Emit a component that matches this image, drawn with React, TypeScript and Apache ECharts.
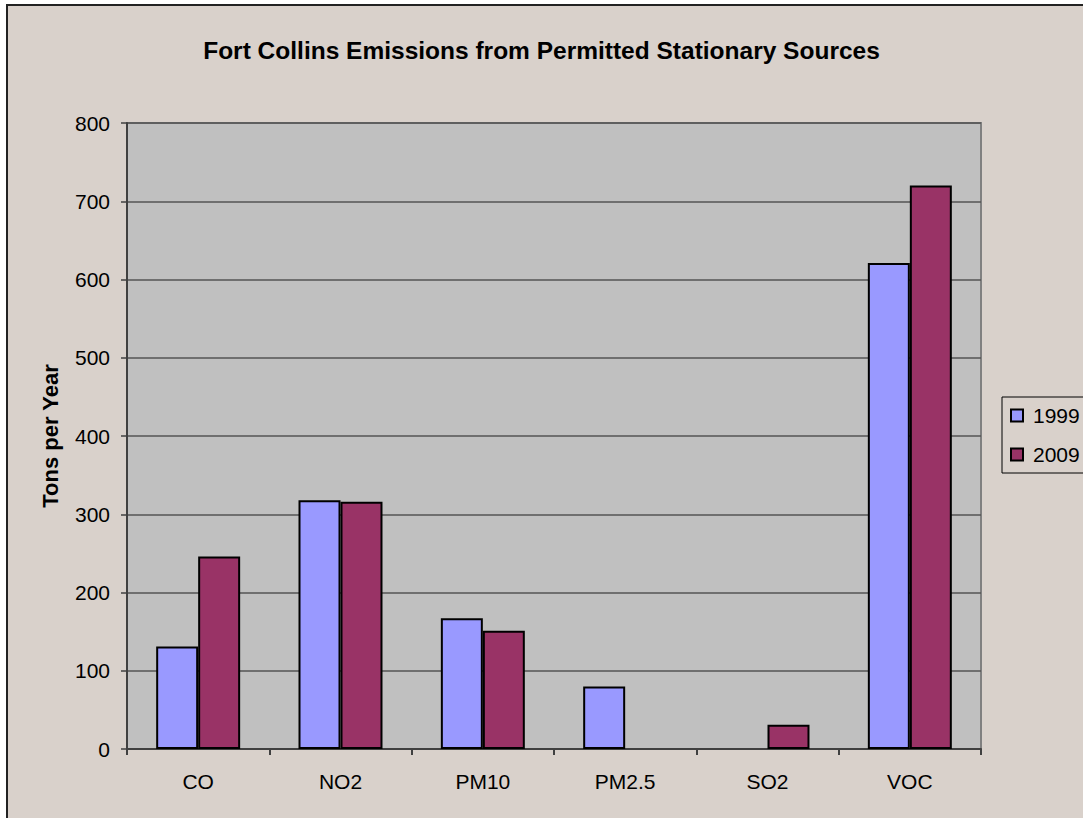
import React, { useEffect, useRef } from "react";
import * as echarts from "echarts";

const categories = ["CO", "NO2", "PM10", "PM2.5", "SO2", "VOC"];
const series1999 = [131, 318, 167, 80, 0, 621];
const series2009 = [246, 316, 151, 0, 31, 720];
const seriesNames = ["1999", "2009"];
const yTicks = { min: 0, max: 800, interval: 100 };

const FONT = "'Liberation Sans', Arial, sans-serif";

export default function App() {
  const ref = useRef<HTMLDivElement>(null);
  useEffect(() => {
    document.body.style.margin = "0";
    const chart = echarts.init(ref.current!, null, { renderer: "svg" });
    const barStyle = (color: string) => ({
      color,
      borderColor: "#000",
      borderWidth: 2,
    });
    const toData = (arr: number[]) =>
      arr.map((v) => (v === 0 ? { value: v, itemStyle: { borderWidth: 0, opacity: 0 } } : v));
    chart.setOption({
      animation: false,
      backgroundColor: "#ffffff",
      graphic: [
        {
          type: "rect",
          z: -10,
          silent: true,
          shape: { x: 7, y: 5, width: 1200, height: 1000 },
          style: { fill: "#D9D1CB", stroke: "#222", lineWidth: 2 },
        },
      ],
      title: {
        text: "Fort Collins Emissions from Permitted Stationary Sources",
        left: "center",
        top: 33,
        textStyle: { fontFamily: FONT, fontSize: 24.5, fontWeight: "bold", color: "#000" },
      },
      legend: {
        orient: "vertical",
        left: 1002,
        top: 397,
        data: seriesNames,
        itemWidth: 12,
        itemHeight: 12,
        itemGap: 18,
        padding: [8, 24, 8, 8],
        borderColor: "#000",
        borderWidth: 1,
        backgroundColor: "#D9D1CB",
        textStyle: { fontFamily: FONT, fontSize: 21, color: "#000", padding: [0, 0, 0, 5] },
        icon: "rect",
      },
      grid: {
        left: 127,
        top: 123,
        right: 102,
        bottom: 69,
        show: true,
        backgroundColor: "#C0C0C0",
        borderColor: "#808080",
        borderWidth: 2,
      },
      xAxis: {
        type: "category",
        data: categories,
        axisLine: { show: true, lineStyle: { color: "#404040", width: 2 } },
        axisTick: { show: true, length: 6, lineStyle: { color: "#404040", width: 2 } },
        axisLabel: { margin: 22, fontFamily: FONT, fontSize: 21, color: "#000" },
      },
      yAxis: {
        type: "value",
        min: yTicks.min,
        max: yTicks.max,
        interval: yTicks.interval,
        name: "Tons per Year",
        nameLocation: "middle",
        nameGap: 66,
        nameRotate: 90,
        nameTextStyle: { fontFamily: FONT, fontSize: 22, fontWeight: "bold", color: "#000" },
        axisLine: { show: true, lineStyle: { color: "#404040", width: 2 } },
        axisTick: { show: true, length: 6, lineStyle: { color: "#404040", width: 1.5 } },
        axisLabel: { margin: 17, fontFamily: FONT, fontSize: 21, color: "#000" },
        splitLine: { show: true, lineStyle: { color: "#555", width: 1.5 } },
      },
      series: [
        {
          name: seriesNames[0],
          type: "bar",
          data: toData(series1999),
          barGap: "0%",
          barCategoryGap: "41%",
          itemStyle: barStyle("#9999FF"),
        },
        {
          name: seriesNames[1],
          type: "bar",
          data: toData(series2009),
          barGap: "0%",
          barCategoryGap: "41%",
          itemStyle: barStyle("#993366"),
        },
      ],
    });
    return () => chart.dispose();
  }, []);
  return <div ref={ref} style={{ width: 1083, height: 818 }} />;
}
